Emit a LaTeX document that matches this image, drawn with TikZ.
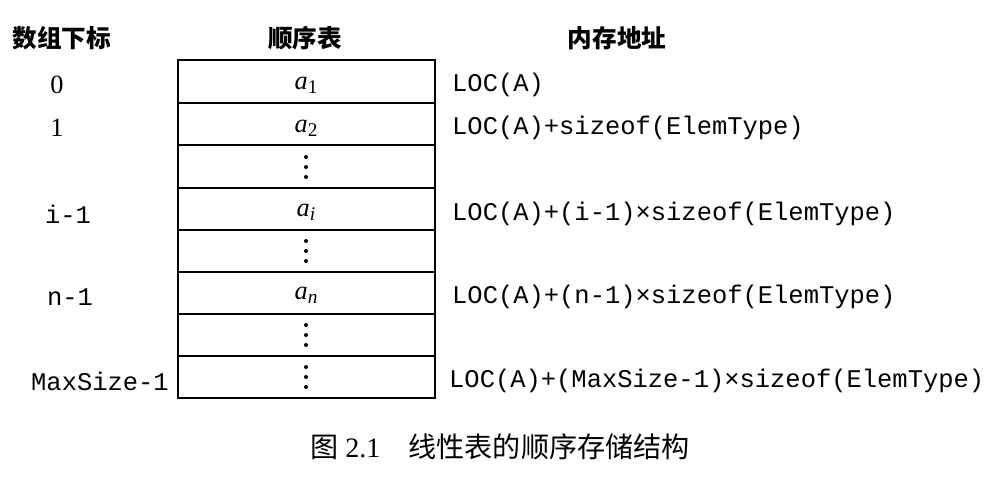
\documentclass[tikz,border=0pt]{standalone}
\usepackage{fontspec}
\setmainfont{Liberation Serif}
\setmonofont{Liberation Mono}
\newfontfamily\cjk{Noto Sans CJK SC}
\newcommand{\sub}[1]{\raisebox{-0.35ex}{\fontsize{11}{12}\selectfont #1}}
\begin{document}
\begin{tikzpicture}[x=0.02cm,y=-0.02cm,
  hd/.style={font=\cjk\bfseries\fontsize{14}{16}\selectfont},
  idx/.style={font=\ttfamily\fontsize{14.5}{16}\selectfont},
  num/.style={font=\fontsize{15}{17}\selectfont},
  addr/.style={font=\ttfamily\fontsize{14.5}{16}\selectfont,anchor=west},
  cell/.style={font=\fontsize{15}{17}\selectfont,inner sep=0pt},
  vdot/.pic={\foreach \d in {-10,0,10} \fill (0,\d) circle[radius=2];}]
\useasboundingbox (0,0) rectangle (1005,481);
\node[hd] (h1) at (62,38) {数组下标};
\node[hd] (h2) at (305,38) {顺序表};
\node[hd] (h3) at (617,38) {内存地址};
\draw[line width=0.8pt] (178,60) rectangle (435,398);
\foreach \y in {103,145,188,230,272,314,356} \draw[line width=0.8pt] (178,\y) -- (435,\y);
\node[cell] (c1) at (306,85) {\textit{a}\sub{1}};
\node[cell] (c2) at (306,128) {\textit{a}\sub{2}};
\pic at (306,167) {vdot};
\node[cell] (c4) at (306,212) {\textit{a}\sub{\textit{i}}};
\pic at (306,251) {vdot};
\node[cell] (c6) at (306,295) {\textit{a}\sub{\textit{n}}};
\pic at (306,335) {vdot};
\pic at (306,377) {vdot};
\node[num] (i0) at (57,85) {0};
\node[num] (i1) at (57,128) {1};
\node[idx] (i2) at (68,214) {i-1};
\node[idx] (i3) at (70,297) {n-1};
\node[idx] (i4) at (100,381) {MaxSize-1};
\node[addr] (a0) at (446,85) {LOC(A)};
\node[addr] (a1) at (446,128) {LOC(A)+sizeof(ElemType)};
\node[addr] (a2) at (446,214) {LOC(A)+(i-1)×sizeof(ElemType)};
\node[addr] (a3) at (446,297) {LOC(A)+(n-1)×sizeof(ElemType)};
\node[addr] (a4) at (443,381) {LOC(A)+(MaxSize-1)×sizeof(ElemType)};
\node[font=\fontsize{16}{18}\selectfont] (cap) at (500,447) {{\cjk 图} 2.1\quad{\cjk 线性表的顺序存储结构}};
\end{tikzpicture}
\end{document}
